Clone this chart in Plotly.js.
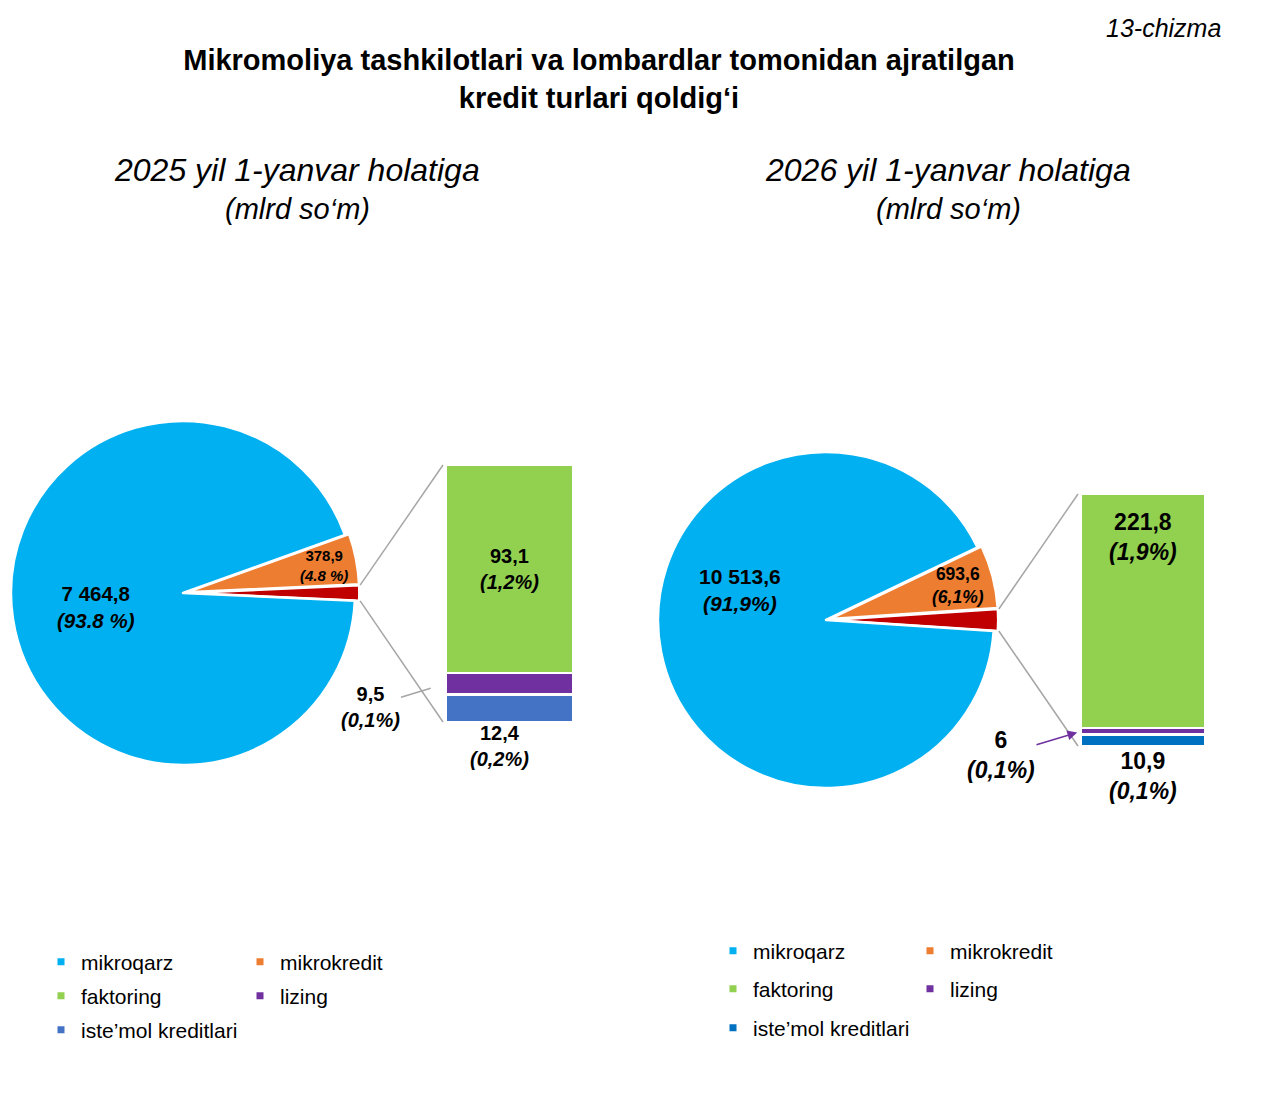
<!DOCTYPE html>
<html><head><meta charset="utf-8">
<script src="https://cdn.plot.ly/plotly-3.0.1.min.js"></script>
<style>html,body{margin:0;padding:0;background:#fff}#chart{width:1264px;height:1094px}</style>
</head><body><div id="chart"></div>
<script>
// ---------- DATA ----------
const categories = ['mikroqarz', 'mikrokredit', 'faktoring', 'lizing', 'iste\u2019mol kreditlari'];
const otherName = 'boshqalar';
const values2025 = [7464.8, 378.9, 93.1, 9.5, 12.4];
const values2026 = [10513.6, 693.6, 221.8, 6, 10.9];
const valueLabels2025 = ['7 464,8', '378,9', '93,1', '9,5', '12,4'];
const pctLabels2025 = ['(93.8 %)', '(4.8 %)', '(1,2%)', '(0,1%)', '(0,2%)'];
const valueLabels2026 = ['10 513,6', '693,6', '221,8', '6', '10,9'];
const pctLabels2026 = ['(91,9%)', '(6,1%)', '(1,9%)', '(0,1%)', '(0,1%)'];
const chartTitles = ['2025 yil 1-yanvar holatiga', '2026 yil 1-yanvar holatiga'];
const unitLabel = '(mlrd so\u2018m)';
const mainTitle = ['Mikromoliya tashkilotlari va lombardlar tomonidan ajratilgan', 'kredit turlari qoldig\u2018i'];
const figureNo = '13-chizma';

// ---------- STYLE / LAYOUT ----------
const W = 1264, H = 1094;
const FONT = 'Liberation Sans, Arial, sans-serif';
const colors2025 = ['#00B0F0', '#ED7D31', '#92D050', '#7030A0', '#4472C4'];
const colors2026 = ['#00B0F0', '#ED7D31', '#92D050', '#7030A0', '#0070C0'];
const otherColor = '#C00000';
const pullVal = 0.025;

const px = (x) => x / W;
const py = (y) => 1 - y / H;
const lbl = (a, b) => '<b>' + a + '</b><br><b><i>' + b + '</i></b>';

const charts = [
  {
    values: values2025, vlab: valueLabels2025, plab: pctLabels2025, colors: colors2025,
    pieDom: {cx: 183, cy: 593, r: 172},
    barDom: {x0: 446, x1: 573, y0: 465, y1: 722},
    bigLabel: {ang: 189, k: 0.51, font: 20.5}, orangeLabel: {k: 0.81, font: 15},
    barFont: 20, faktAnchor: 'middle', faktShift: 0,
    titleX: 297,
    lizing: {ax: -76, ay: 23, arrowhead: 0, color: '#A6A6A6', standoff: 16, font: 20},
    iste: {xshift: -10, yshift: 2, font: 20},
    legendPos: [[65, 962], [264, 962], [65, 996], [264, 996], [65, 1030]],
    xa: 'x', ya: 'y', xaxis: 'xaxis', yaxis: 'yaxis'
  },
  {
    values: values2026, vlab: valueLabels2026, plab: pctLabels2026, colors: colors2026,
    pieDom: {cx: 826, cy: 620, r: 168},
    barDom: {x0: 1081, x1: 1205, y0: 494, y1: 746},
    bigLabel: {ang: 161, k: 0.54, font: 21}, orangeLabel: {k: 0.79, font: 17.5},
    barFont: 23, faktAnchor: 'end', faktShift: -13,
    titleX: 948,
    lizing: {ax: -80, ay: 24, arrowhead: 2, color: '#7030A0', standoff: 4, font: 23},
    iste: {xshift: 0, yshift: 0, font: 23},
    legendPos: [[737, 951], [934, 951], [737, 989], [934, 989], [737, 1028]],
    xa: 'x2', ya: 'y2', xaxis: 'xaxis2', yaxis: 'yaxis2'
  }
];

const traces = [];
const shapes = [];
const annotations = [];
const layout = {
  width: W, height: H,
  margin: {l: 0, r: 0, t: 0, b: 0},
  paper_bgcolor: '#fff', plot_bgcolor: 'rgba(0,0,0,0)',
  font: {family: FONT, color: '#000'},
  showlegend: true,
  barmode: 'stack', bargap: 0,
  separators: ', ',
  title: {
    text: '<b>' + mainTitle[0] + '</b><br><b>' + mainTitle[1] + '</b>',
    x: 599 / W, xanchor: 'center', y: 1 - 70 / H, yanchor: 'top',
    font: {family: FONT, size: 29, color: '#000'}
  },
  shapes: shapes, annotations: annotations
};

annotations.push({
  text: '<i>' + figureNo + '</i>', xref: 'paper', yref: 'paper',
  x: px(1223), y: py(28), xanchor: 'right', yanchor: 'middle', showarrow: false,
  font: {family: FONT, size: 25, color: '#000'}
});

let legendIndex = 1;
charts.forEach((c, ci) => {
  const v = c.values;
  const otherVal = v[2] + v[3] + v[4];
  const total = v[0] + v[1] + otherVal;
  const pieValues = [otherVal, v[1], v[0]];
  const halfOther = otherVal / total * 180;

  // pie domain sized so that pulled radius fits
  const R = c.pieDom.r * (1 + pullVal);
  const dom = {
    x: [px(c.pieDom.cx - R), px(c.pieDom.cx + R)],
    y: [py(c.pieDom.cy + R), py(c.pieDom.cy - R)]
  };
  traces.push({
    type: 'pie', values: pieValues, labels: [otherName, categories[1], categories[0]],
    sort: false, direction: 'counterclockwise', rotation: 90 - halfOther,
    pull: [pullVal, pullVal, 0],
    marker: {colors: [otherColor, c.colors[1], c.colors[0]], line: {color: '#fff', width: 2.5}},
    textinfo: 'none',
    domain: dom, showlegend: false, hoverinfo: 'label+value+percent'
  });

  // pie geometry (same as plotly's own scaling) for labels & connectors
  const wpx = (dom.x[1] - dom.x[0]) * W, hpx = (dom.y[1] - dom.y[0]) * H;
  const r = Math.min(wpx, hpx) / (2 + 2 * pullVal);
  const cx = W * (dom.x[0] + dom.x[1]) / 2, cy = H * (1 - (dom.y[0] + dom.y[1]) / 2);
  const h = halfOther * Math.PI / 180;

  // big slice label
  const bA = c.bigLabel.ang * Math.PI / 180;
  annotations.push({
    xref: 'paper', yref: 'paper', showarrow: false, xanchor: 'center', yanchor: 'middle',
    x: px(cx + c.bigLabel.k * r * Math.cos(bA)), y: py(cy - c.bigLabel.k * r * Math.sin(bA)),
    text: lbl(c.vlab[0], c.plab[0]), font: {family: FONT, size: c.bigLabel.font, color: '#000'}
  });
  // orange slice label at its mid angle
  const oMid = (halfOther + v[1] / total * 180) * Math.PI / 180;
  const oR = c.orangeLabel.k * r;
  annotations.push({
    xref: 'paper', yref: 'paper', showarrow: false, xanchor: 'center', yanchor: 'middle',
    x: px(cx + (oR + pullVal * r) * Math.cos(oMid)), y: py(cy - (oR + pullVal * r) * Math.sin(oMid)),
    text: lbl(c.vlab[1], c.plab[1]), font: {family: FONT, size: c.orangeLabel.font, color: '#000'}
  });

  // stacked bar (bottom to top: iste'mol, lizing, faktoring)
  [4, 3, 2].forEach((i) => {
    traces.push({
      type: 'bar', x: [0], y: [v[i]], width: [1], name: categories[i],
      xaxis: c.xa, yaxis: c.ya, showlegend: false,
      marker: {color: c.colors[i], line: {color: '#fff', width: 2.5}},
      textposition: 'none', hoverinfo: 'name+y'
    });
  });

  const xdom = [px(c.barDom.x0), px(c.barDom.x1)];
  const ydom = [py(c.barDom.y1), py(c.barDom.y0)];
  layout[c.xaxis] = {domain: xdom, range: [-0.5, 0.5], visible: false, fixedrange: true, anchor: c.ya};
  layout[c.yaxis] = {domain: ydom, range: [0, otherVal], visible: false, fixedrange: true, anchor: c.xa};

  // faktoring label inside bar
  const faktY = c.faktAnchor === 'middle' ? v[4] + v[3] + v[2] / 2 : otherVal;
  annotations.push({
    xref: c.xa, yref: c.ya, x: 0, y: faktY, xanchor: 'center',
    yanchor: c.faktAnchor === 'middle' ? 'middle' : 'top', yshift: c.faktShift, showarrow: false,
    text: lbl(c.vlab[2], c.plab[2]), font: {family: FONT, size: c.barFont, color: '#000'}
  });
  // iste'mol label below bar
  annotations.push({
    xref: c.xa, yref: c.ya, x: 0, y: 0, yanchor: 'top', xanchor: 'center', yshift: c.iste.yshift,
    xshift: c.iste.xshift, showarrow: false,
    text: lbl(c.vlab[4], c.plab[4]), font: {family: FONT, size: c.iste.font, color: '#000'}
  });
  // lizing label with leader
  annotations.push({
    xref: c.xa, yref: c.ya, x: -0.5, y: v[4] + v[3] / 2,
    showarrow: true, ax: c.lizing.ax, ay: c.lizing.ay, arrowhead: c.lizing.arrowhead,
    arrowsize: 1.3, arrowwidth: 1.5, arrowcolor: c.lizing.color, standoff: c.lizing.standoff,
    text: lbl(c.vlab[3], c.plab[3]), font: {family: FONT, size: c.lizing.font, color: '#000'}
  });

  // chart sub-title (two lines)
  annotations.push({
    xref: 'paper', yref: 'paper', x: px(c.titleX), y: py(170), xanchor: 'center', yanchor: 'middle',
    showarrow: false, text: '<i>' + chartTitles[ci] + '</i>',
    font: {family: FONT, size: 32, color: '#000'}
  });
  annotations.push({
    xref: 'paper', yref: 'paper', x: px(c.titleX), y: py(209), xanchor: 'center', yanchor: 'middle',
    showarrow: false, text: '<i>' + unitLabel + '</i>',
    font: {family: FONT, size: 29, color: '#000'}
  });

  // connector lines from "other" slice to bar
  const ex = cx + r * Math.cos(h) + pullVal * r;
  [[cy - r * Math.sin(h), ydom[1]], [cy + r * Math.sin(h), ydom[0]]].forEach(([sy, ey]) => {
    shapes.push({
      type: 'line', xref: 'paper', yref: 'paper',
      x0: px(ex + 1), y0: py(sy), x1: xdom[0] - px(3), y1: ey,
      line: {color: '#A6A6A6', width: 1.5}
    });
  });

  // legend entries (one legend per entry for exact placement)
  categories.forEach((name, i) => {
    const key = legendIndex === 1 ? 'legend' : 'legend' + legendIndex;
    traces.push({
      type: 'scatter', mode: 'markers', x: [null], y: [null], xaxis: c.xa, yaxis: c.ya,
      name: name, legend: key, showlegend: true, hoverinfo: 'skip',
      marker: {symbol: 'square', size: 7, color: c.colors[i]}
    });
    const [lx, ly] = c.legendPos[i];
    layout[key] = {
      x: px(lx - 24), y: py(ly), xanchor: 'left', yanchor: 'middle',
      bgcolor: 'rgba(0,0,0,0)', borderwidth: 0,
      font: {family: FONT, size: 21, color: '#000'}
    };
    legendIndex++;
  });
});

Plotly.newPlot('chart', traces, layout, {displayModeBar: false, staticPlot: true});
</script>
</body></html>
